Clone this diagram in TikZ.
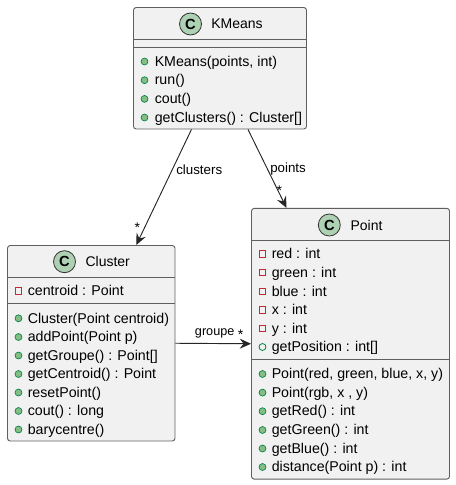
\documentclass[tikz,border=0pt]{standalone}
\usepackage{fontspec}
\setmainfont{Liberation Sans}
\usetikzlibrary{arrows.meta,positioning}
\definecolor{boxfill}{HTML}{F1F1F1}
\definecolor{boxline}{HTML}{5F5F5F}
\definecolor{spotfill}{HTML}{ADD1B2}
\definecolor{pubfill}{HTML}{84BE84}
\definecolor{publine}{HTML}{038048}
\definecolor{privline}{HTML}{C82930}
\tikzset{
    %Define standard arrow tip
    >={Stealth[length=8.5pt,width=7.5pt,inset=3pt]},
    %Define style for boxes
    classbox/.style={
           rectangle,
           rounded corners=2pt,
           draw=boxline, line width=.7pt,
           fill=boxfill,
           inner sep=0pt,
           },
    sepline/.style={draw=boxline, line width=.7pt},
    spot/.style={
           circle,
           draw=black!80, line width=.6pt,
           fill=spotfill,
           minimum size=16.5pt,
           inner sep=0pt,
           font=\fontsize{11}{11}\selectfont\bfseries,
           },
    title/.style={anchor=base west, inner sep=0pt, font=\fontsize{10.5}{12}\selectfont},
    member/.style={anchor=base west, inner sep=0pt, font=\fontsize{10.65}{12}\selectfont},
    % Define icons for the members
    pubdot/.style={circle, draw=publine, line width=.5pt, fill=pubfill, minimum size=5.2pt, inner sep=0pt},
    pubring/.style={circle, draw=publine, line width=.6pt, minimum size=5.2pt, inner sep=0pt},
    privbox/.style={rectangle, draw=privline, line width=.8pt, minimum size=4.8pt, inner sep=0pt},
    % Define arrow style
    pil/.style={->, line width=.7pt, draw=black!85},
    lbl/.style={inner sep=0pt, font=\fontsize{10}{11}\selectfont},
    starlbl/.style={inner sep=0pt, font=\fontsize{10.5}{12}\selectfont},
}
\begin{document}
\begin{tikzpicture}[x=.75pt,y=-.75pt]
\useasboundingbox (0,0) rectangle (455,485);
 %boxes
\node[classbox, minimum width=129.75pt, minimum height=91.1pt] (kmeans) at (220,68.25){};
\node[classbox, minimum width=125.6pt, minimum height=146.6pt] (cluster) at (91.25,343.25){};
\node[classbox, minimum width=148.5pt, minimum height=203pt] (point) at (350.5,343.75){};
 %separators
\draw[sepline] (133.5,39) -- (306.5,39);
\draw[sepline] (133.5,47) -- (306.5,47);
\draw[sepline] (7.5,277.5) -- (175,277.5);
\draw[sepline] (7.5,303.5) -- (175,303.5);
\draw[sepline] (251.5,240.5) -- (449.5,240.5);
\draw[sepline] (251.5,359) -- (449.5,359);
 %titles
\node[spot] (kmeansspot) at (190.5,24){C};
\node[title] (kmeanstitle) at (211,29){KMeans};
\node[spot] (clusterspot) at (64.5,261.7){C};
\node[title] (clustertitle) at (85.3,266.7){Cluster};
\node[spot] (pointspot) at (329.3,225){C};
\node[title] (pointtitle) at (350.3,230){Point};
 %members
\foreach \y/\txt [count=\i] in {61.5/{KMeans(points, int)},80.2/{run()},98.9/{cout()},117.5/{getClusters() : Cluster[]}}{
  \node[pubdot] (kmicon\i) at (144.5,\y){};
  \node[member] (kmtext\i) at (154.5,\y+4.7){\txt};
}
\node[privbox] (clicon0) at (18.5,291){};
\node[member] (cltext0) at (27.5,295.7){centroid : Point};
\foreach \y/\txt [count=\i] in {318.3/{Cluster(Point centroid)},337/{addPoint(Point p)},355.5/{getGroupe() : Point[]},374/{getCentroid() : Point},392.5/{resetPoint()},411/{cout() : long},429.5/{barycentre()}}{
  \node[pubdot] (clicon\i) at (18.5,\y){};
  \node[member] (cltext\i) at (27.5,\y+4.7){\txt};
}
\foreach \y/\txt [count=\i] in {254/{red : int},272.7/{green : int},291.3/{blue : int},310/{x : int},328.7/{y : int}}{
  \node[privbox] (pticon\i) at (262.5,\y){};
  \node[member] (pttext\i) at (271.5,\y+4.7){\txt};
}
\node[pubring] (pticon6) at (262.5,347){};
\node[member] (pttext6) at (271.5,351.7){getPosition : int[]};
\foreach \y/\txt [count=\i from 7] in {374/{Point(red, green, blue, x, y)},392.6/{Point(rgb, x , y)},411.2/{getRed() : int},430/{getGreen() : int},448.5/{getBlue() : int},467/{distance(Point p) : int}}{
  \node[pubdot] (pticon\i) at (262.5,\y){};
  \node[member] (pttext\i) at (271.5,\y+4.7){\txt};
}
 %links
\draw[pil] ([xshift=-21.4pt]kmeans.south) -- ([xshift=33.75pt]cluster.north);
\draw[pil] ([xshift=21pt]kmeans.south) -- ([xshift=-48pt]point.north);
\draw[pil] (cluster.east) -- (point.west);
\node[lbl, anchor=west] (clusterslbl) at (176,169.5){clusters};
\node[starlbl, anchor=center] (clustersstar) at (137.3,228){*};
\node[lbl, anchor=west] (pointslbl) at (270,169.5){points};
\node[starlbl, anchor=center] (pointsstar) at (279.3,190.5){*};
\node[lbl, anchor=west, font=\fontsize{9.5}{11}\selectfont] (groupelbl) at (194.7,333){groupe};
\node[starlbl, anchor=center] (groupestar) at (240.5,334.5){*};
\end{tikzpicture}
\end{document}
